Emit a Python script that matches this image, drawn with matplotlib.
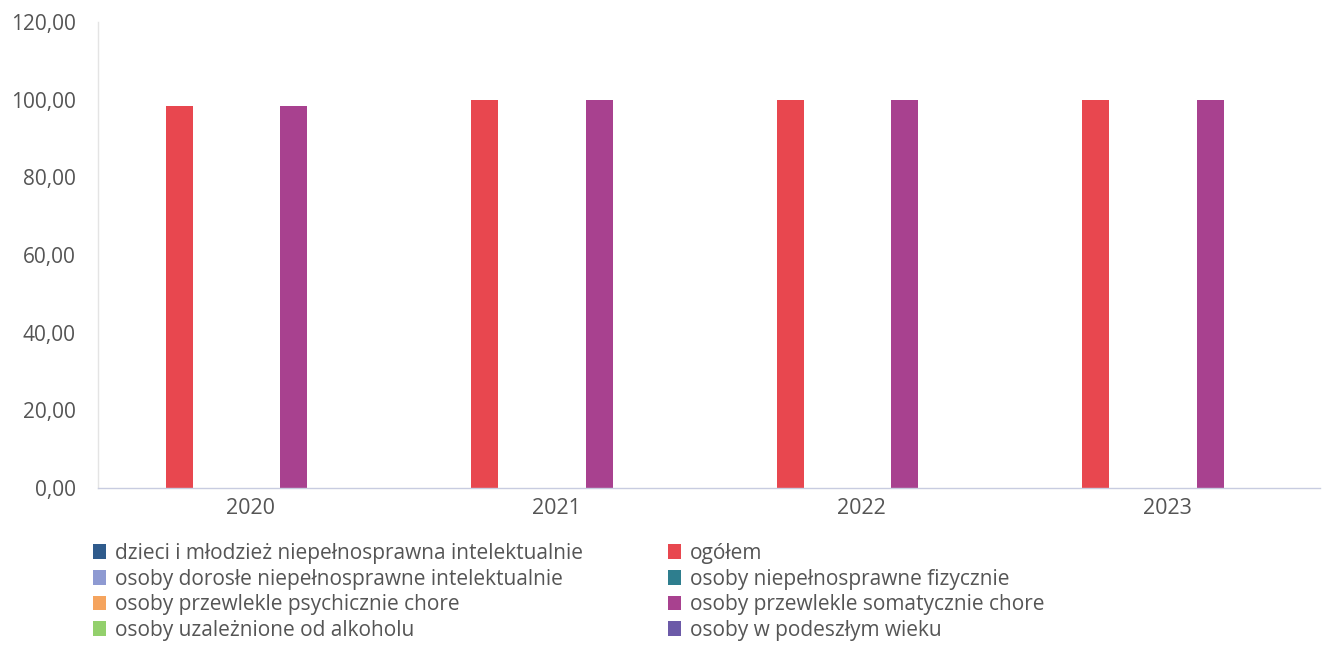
import matplotlib
matplotlib.use("Agg")
import matplotlib.pyplot as plt
from matplotlib.ticker import FuncFormatter, MultipleLocator
from matplotlib.patches import Patch

plt.rcParams['font.family'] = ['Open Sans', 'DejaVu Sans']

years = ["2020", "2021", "2022", "2023"]
series = [
    "dzieci i młodzież niepełnosprawna intelektualnie",
    "ogółem",
    "osoby dorosłe niepełnosprawne intelektualnie",
    "osoby niepełnosprawne fizycznie",
    "osoby przewlekle psychicznie chore",
    "osoby przewlekle somatycznie chore",
    "osoby uzależnione od alkoholu",
    "osoby w podeszłym wieku",
]
colors = ["#2F5B8C", "#E8474F", "#8E9AD2", "#2E7E8E",
          "#F5A45E", "#A8418F", "#93D06C", "#6C5AA8"]
values = [
    [0, 0, 0, 0],
    [98.3, 100, 100, 100],
    [0, 0, 0, 0],
    [0, 0, 0, 0],
    [0, 0, 0, 0],
    [98.3, 100, 100, 100],
    [0, 0, 0, 0],
    [0, 0, 0, 0],
]

fig = plt.figure(figsize=(13.24, 6.46), dpi=100)
ax = fig.add_axes([98/1324, (646-488)/646, (1320-98)/1324, (488-22)/646])

slot = 0.0936
bw = 0.088
n = len(series)
for k, (name, col, vals) in enumerate(zip(series, colors, values)):
    xs = [i + (k - (n - 1) / 2) * slot for i in range(len(years))]
    ax.bar(xs, vals, width=bw, color=col, linewidth=0, label=name)

ax.set_xlim(-0.5, len(years) - 0.5)
ax.set_ylim(0, 120)
ax.yaxis.set_major_locator(MultipleLocator(20))
ax.yaxis.set_major_formatter(FuncFormatter(lambda v, p: f"{v:.2f}".replace(".", ",")))
ax.set_xticks(range(len(years)))
ax.set_xticklabels(years)
ax.tick_params(axis='both', length=0, labelcolor="#555555")
ax.tick_params(axis='y', labelsize=15, pad=16)
ax.tick_params(axis='x', labelsize=15.5, pad=7)

for s in ["top", "right"]:
    ax.spines[s].set_visible(False)
ax.spines["left"].set_color("#E4E4E4")
ax.spines["left"].set_linewidth(1)
ax.spines["bottom"].set_color("#C8CCE0")
ax.spines["bottom"].set_linestyle((0, (2, 1)))
ax.spines["bottom"].set_linewidth(1)

order = [0, 2, 4, 6, 1, 3, 5, 7]
handles = [Patch(facecolor=colors[i], edgecolor='none') for i in order]
labels = [series[i] for i in order]
fig.legend(handles, labels, ncol=2, loc="upper left",
           bbox_to_anchor=(93/1324, 1 - 543/646), frameon=False,
           fontsize=15, labelcolor="#555555",
           handlelength=0.6, handleheight=0.7, handletextpad=0.45,
           labelspacing=0.22, columnspacing=4.1, borderaxespad=0, borderpad=0)

fig.savefig("out.png", dpi=100)
